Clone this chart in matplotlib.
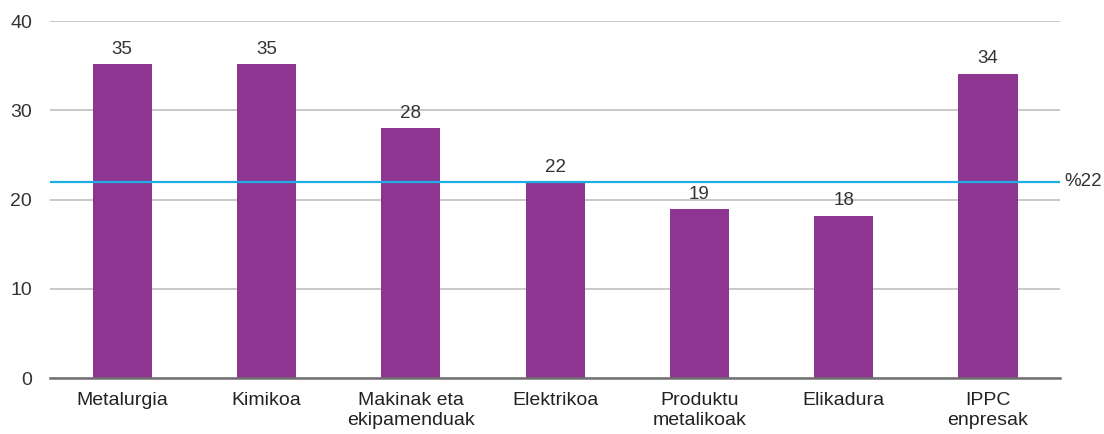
import matplotlib
matplotlib.use("Agg")
import matplotlib.pyplot as plt

categories = ["Metalurgia", "Kimikoa", "Makinak eta\nekipamenduak", "Elektrikoa",
              "Produktu\nmetalikoak", "Elikadura", "IPPC\nenpresak"]
values = [35.2, 35.2, 28.0, 21.9, 18.9, 18.2, 34.1]
labels = ["35", "35", "28", "22", "19", "18", "34"]
ref_value = 22
ref_label = "%22"
yticks = [0, 10, 20, 30, 40]

plt.rcParams['font.family'] = ['Liberation Sans', 'DejaVu Sans']
txt = "#333333"

fig = plt.figure(figsize=(11.04, 4.34), dpi=100)
ax = fig.add_axes([0.0453, 0.129, 0.915, 0.8226])
x = list(range(len(categories)))
ax.bar(x, values, width=0.41, color="#8E3591", zorder=2)
for xi, v, l in zip(x, values, labels):
    ax.text(xi, v + 0.7, l, ha="center", va="bottom", fontsize=13.5, color=txt)
ax.axhline(ref_value, color="#1CAEE4", lw=1.6, zorder=3)
ax.text(1.004, ref_value, ref_label, transform=ax.get_yaxis_transform(),
        ha="left", va="center", fontsize=13.5, color=txt)
ax.set_xlim(-0.5, len(categories) - 0.5)
ax.set_ylim(0, 40)
ax.set_yticks(yticks)
ax.set_xticks(x)
ax.set_xticklabels(categories, fontsize=14, color="#222222", linespacing=1.25)
ax.tick_params(axis="y", labelsize=14, colors=txt, length=0, pad=13)
ax.tick_params(axis="x", length=0, pad=10)
ax.grid(axis="y", color="#C8C8C8", lw=1.4, zorder=0)
ax.set_axisbelow(True)
for s in ["top", "right", "left"]:
    ax.spines[s].set_visible(False)
ax.spines["bottom"].set_color("#707070")
ax.spines["bottom"].set_linewidth(1.8)
ax.spines["bottom"].set_zorder(4)
fig.savefig("out.png", dpi=100)
